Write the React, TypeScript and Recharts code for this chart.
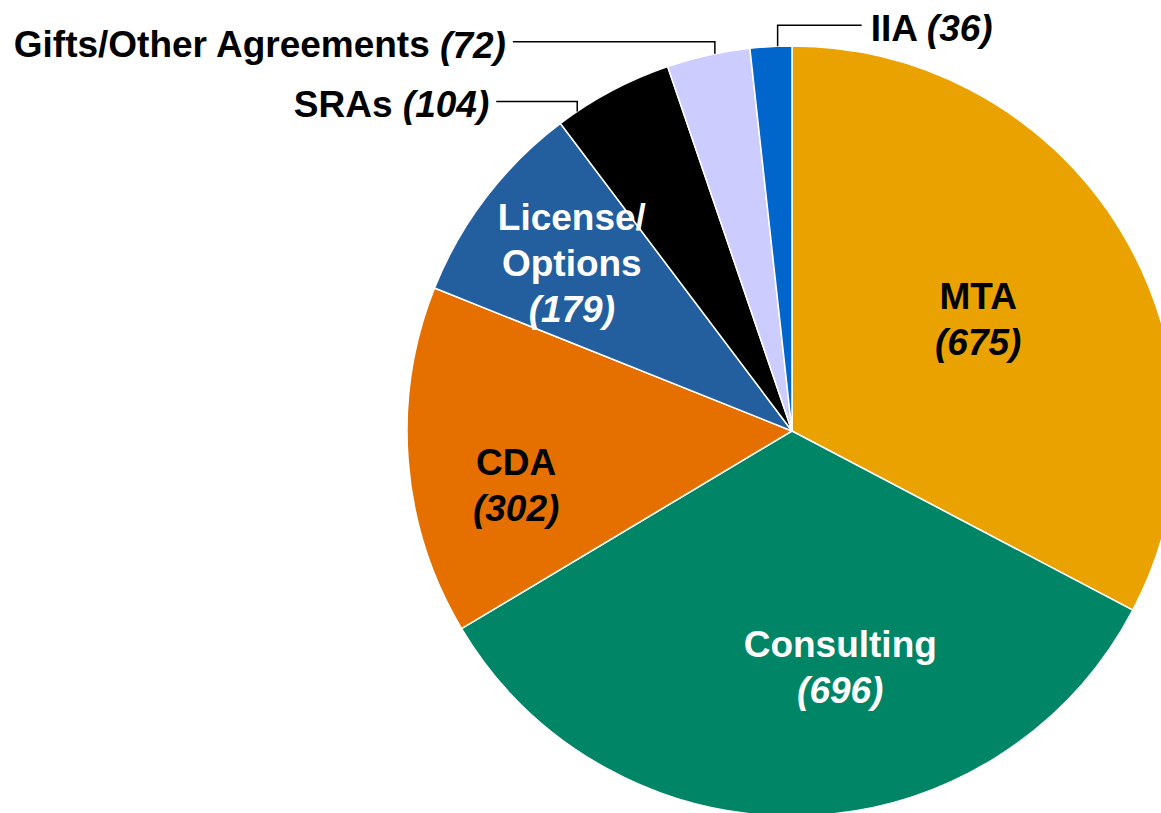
import { Cell, Pie, PieChart } from 'recharts';

const categories = ['MTA', 'Consulting', 'CDA', 'License/Options', 'SRAs', 'Gifts/Other Agreements', 'IIA'];
const counts = [675, 696, 302, 179, 104, 72, 36];

const sliceColors = ['#EAA200', '#008566', '#E57000', '#235F9E', '#000000', '#CCCCFF', '#0066CC'];

const data = categories.map((name, i) => ({ name, value: counts[i] }));

const RAD = Math.PI / 180;
const FONT = '"Liberation Sans", Arial, Helvetica, sans-serif';
const FONT_SIZE = 37;
const LINE_H = 46;

// inside labels: radius as share of the pie, shift in degrees (clockwise)
const insideLabels: Record<number, { r: number; shift: number; color: string }> = {
  0: { r: 0.565, shift: 0, color: '#000' },
  1: { r: 0.625, shift: -10, color: '#fff' },
  2: { r: 0.73, shift: -6.5, color: '#000' },
  3: { r: 0.72, shift: 0, color: '#fff' },
};

// outside labels: leader goes up from the rim, then sideways
const outsideLabels: Record<number, { shift: number; rise: number; run: number }> = {
  4: { shift: -6, rise: 10, run: -81 },
  5: { shift: 1, rise: 12, run: -202 },
  6: { shift: 1, rise: 21, run: 84 },
};

function renderLabel(props: any) {
  const { cx, cy, midAngle, outerRadius, index, name, value } = props;

  const inside = insideLabels[index];
  if (inside) {
    const a = (midAngle - inside.shift) * RAD;
    const x = cx + outerRadius * inside.r * Math.cos(a);
    const y = cy - outerRadius * inside.r * Math.sin(a);
    const lines: string[] = name === 'License/Options' ? ['License/', 'Options'] : [name];
    const all = [...lines, `(${value})`];
    const top = y - ((all.length - 1) / 2) * LINE_H;
    return (
      <text
        x={x}
        y={y}
        fill={inside.color}
        textAnchor="middle"
        dominantBaseline="central"
        fontFamily={FONT}
        fontSize={FONT_SIZE}
        fontWeight="bold"
      >
        {all.map((t, k) => (
          <tspan key={k} x={x} y={top + k * LINE_H} fontStyle={k === all.length - 1 ? 'italic' : 'normal'}>
            {t}
          </tspan>
        ))}
      </text>
    );
  }

  const out = outsideLabels[index];
  if (!out) return null;
  const a = (midAngle - out.shift) * RAD;
  const x0 = cx + outerRadius * Math.cos(a);
  const y0 = cy - outerRadius * Math.sin(a);
  const y1 = y0 - out.rise;
  const x1 = x0 + out.run;
  const right = out.run > 0;
  const tx = x1 + (right ? 9 : -7);
  return (
    <g>
      <polyline points={`${x0},${y0} ${x0},${y1} ${x1},${y1}`} fill="none" stroke="#000" strokeWidth={1.5} />
      <text
        x={tx}
        y={y1 + 3}
        textAnchor={right ? 'start' : 'end'}
        dominantBaseline="central"
        fontFamily={FONT}
        fontSize={FONT_SIZE}
        fontWeight="bold"
        fill="#000"
      >
        {name} <tspan fontStyle="italic">({value})</tspan>
      </text>
    </g>
  );
}

export default function App() {
  return (
    <div style={{ position: 'absolute', left: 0, top: 0, width: 1161, height: 813, background: '#fff' }}>
      <PieChart width={1161} height={813} margin={{ top: 0, right: 0, bottom: 0, left: 0 }}>
        <Pie
          data={data}
          dataKey="value"
          nameKey="name"
          cx={792}
          cy={431}
          outerRadius={385}
          startAngle={90}
          endAngle={-270}
          stroke="#fff"
          strokeWidth={1.5}
          label={renderLabel}
          labelLine={false}
          isAnimationActive={false}
        >
          {data.map((d, i) => (
            <Cell key={d.name} fill={sliceColors[i]} />
          ))}
        </Pie>
      </PieChart>
    </div>
  );
}
